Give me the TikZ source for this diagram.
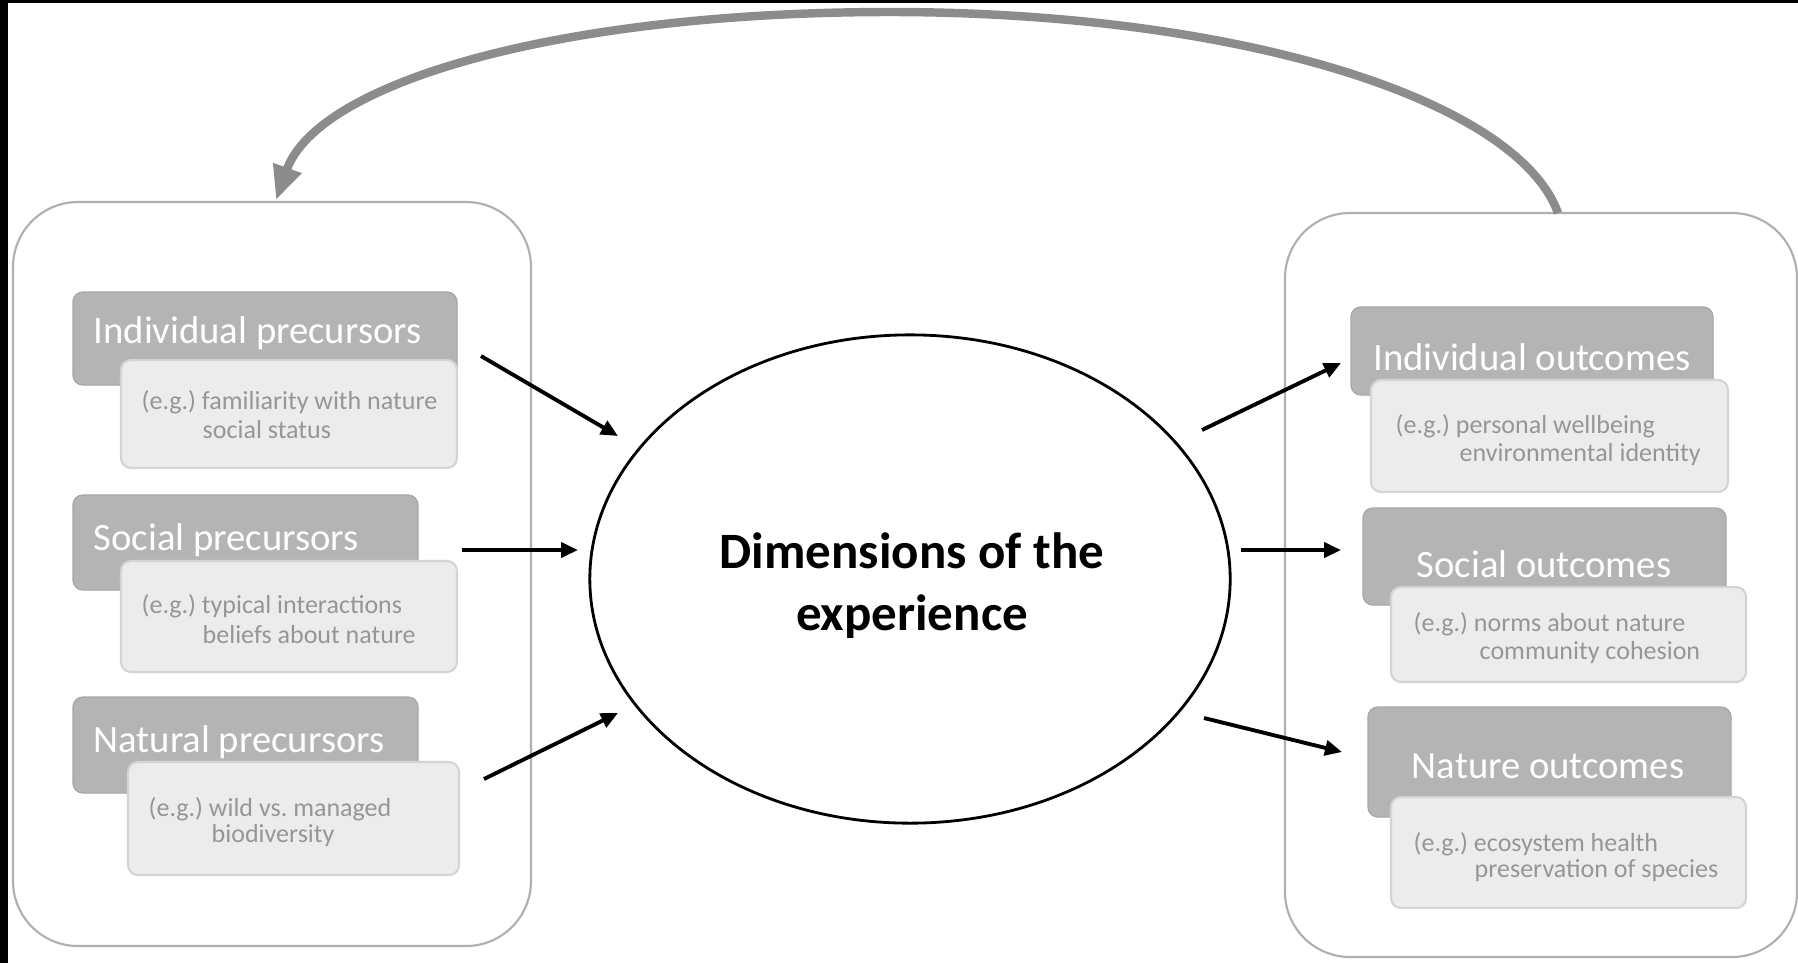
\documentclass[tikz,border=0pt]{standalone}
\usepackage{fontspec}
\setmainfont{Carlito}
\frenchspacing
\usetikzlibrary{arrows.meta,fit,shapes.geometric}
\definecolor{hdrfill}{RGB}{180,180,180}
\definecolor{hdrline}{RGB}{168,168,168}
\definecolor{exfill}{RGB}{236,236,236}
\definecolor{exline}{RGB}{212,212,212}
\definecolor{exgray}{RGB}{150,150,150}
\definecolor{bigline}{RGB}{175,175,175}
\definecolor{arccol}{RGB}{140,140,140}
\begin{document}
\begin{tikzpicture}[x=0.01cm,y=-0.01cm,
  bigbox/.style={draw=bigline, line width=0.6pt, rounded corners=0.65cm, inner sep=0pt},
  hdrbox/.style={draw=hdrline, fill=hdrfill, line width=0.4pt, rounded corners=0.1cm, inner sep=0pt},
  exbox/.style={draw=exline, fill=exfill, line width=0.6pt, rounded corners=0.1cm, inner sep=0pt},
  hdrtext/.style={text=white, font=\fontsize{11}{13}\selectfont, inner sep=0pt},
  extext/.style={text=exgray, font=\fontsize{7.4}{9}\selectfont, inner sep=0pt, anchor=west},
  centertext/.style={font=\fontsize{14.5}{17.6}\selectfont\bfseries, align=center, inner sep=0pt},
  flowarrow/.style={-{Triangle[length=0.17cm,width=0.15cm]}, line width=1.1pt, black},
  feedback/.style={-{Triangle[length=0.34cm,width=0.28cm]}, line width=2.4pt, arccol},
]
\useasboundingbox (0,0) rectangle (1798,963);
\fill[white] (0,0) rectangle (1798,963);
\fill[black] (0,0) rectangle (8,963);
\fill[black] (0,0) rectangle (1798,3);

% big containers
\node[bigbox, fit={(13,202) (531,946)}] (lbox) {};
\node[bigbox, fit={(1285,213) (1797,957)}] (rbox) {};

% left header boxes
\node[hdrbox, fit={(73,292) (457,385)}] (h1) {};
\node[hdrbox, fit={(73,495) (418,590)}] (h2) {};
\node[hdrbox, fit={(73,697) (418,793)}] (h3) {};
\node[hdrtext, anchor=base west] (h1t) at (93,343) {Individual precursors};
\node[hdrtext, anchor=base west] (h2t) at (93,550) {Social precursors};
\node[hdrtext, anchor=base west] (h3t) at (93,752) {Natural precursors};

% left example boxes
\node[exbox, fit={(121,360) (457,468)}] (e1) {};
\node[exbox, fit={(121,561) (457,672)}] (e2) {};
\node[exbox, fit={(128,762) (459,875)}] (e3) {};
\node[extext] (e1a) at (141,402) {(e.g.) familiarity with nature};
\node[extext] (e1b) at (202,430) {social status};
\node[extext] (e2a) at (141,606) {(e.g.) typical interactions};
\node[extext] (e2b) at (202,635) {beliefs about nature};
\node[extext] (e3a) at (148,809) {(e.g.) wild vs. managed};
\node[extext] (e3b) at (211,836) {biodiversity};

% right header boxes
\node[hdrbox, fit={(1351,307) (1713,395)}] (h4) {};
\node[hdrbox, fit={(1363,508) (1726,605)}] (h5) {};
\node[hdrbox, fit={(1368,707) (1731,817)}] (h6) {};
\node[hdrtext, anchor=base] (h4t) at (1532,370) {Individual outcomes};
\node[hdrtext, anchor=base] (h5t) at (1544,577) {Social outcomes};
\node[hdrtext, anchor=base] (h6t) at (1548,778) {Nature outcomes};

% right example boxes
\node[exbox, fit={(1371,380) (1728,492)}] (e4) {};
\node[exbox, fit={(1391,587) (1746,682)}] (e5) {};
\node[exbox, fit={(1391,797) (1746,908)}] (e6) {};
\node[extext] (e4a) at (1395,426) {(e.g.) personal wellbeing};
\node[extext] (e4b) at (1459,455) {environmental identity};
\node[extext] (e5a) at (1413,624) {(e.g.) norms about nature};
\node[extext] (e5b) at (1479,653) {community cohesion};
\node[extext] (e6a) at (1413,844) {(e.g.) ecosystem health};
\node[extext] (e6b) at (1474,871) {preservation of species};

% central ellipse
\node[draw, ellipse, line width=0.8pt, minimum width=6.4cm, minimum height=4.88cm, inner sep=0pt] (dim) at (910,579) {};
\node[centertext] (dimt) at (912,586) {Dimensions of the\\experience};

% arrow end points
\coordinate (a1s) at (481,356); \coordinate (a1e) at (618,436);
\coordinate (a2s) at (462,550); \coordinate (a2e) at (578,550);
\coordinate (a3s) at (484,779); \coordinate (a3e) at (618,713);
\coordinate (b1s) at (1202,430); \coordinate (b1e) at (1341,363);
\coordinate (b2s) at (1241,550); \coordinate (b2e) at (1341,550);
\coordinate (b3s) at (1204,718); \coordinate (b3e) at (1342,752);
\draw[flowarrow] (a1s) -- (a1e);
\draw[flowarrow] (a2s) -- (a2e);
\draw[flowarrow] (a3s) -- (a3e);
\draw[flowarrow] (b1s) -- (b1e);
\draw[flowarrow] (b2s) -- (b2e);
\draw[flowarrow] (b3s) -- (b3e);

% feedback arc
\coordinate (arcS) at (1558,213);
\coordinate (arcTop) at (890,12);
\coordinate (arcE) at (276,200);
\draw[feedback] (arcS) .. controls (1517,100) and (1240,12) .. (arcTop) .. controls (560,12) and (318,82) .. (arcE);
\end{tikzpicture}
\end{document}
